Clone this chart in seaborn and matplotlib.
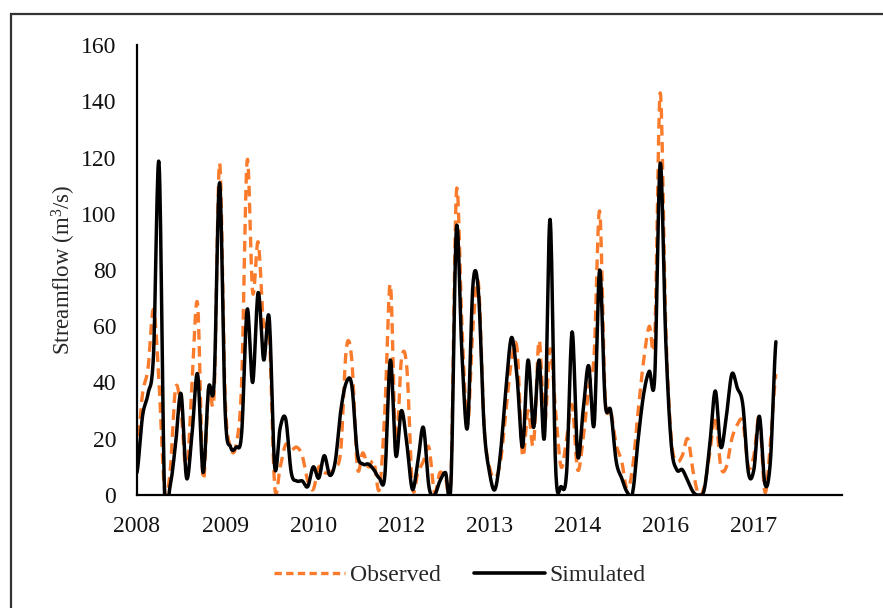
import numpy as np
import pandas as pd
import matplotlib
matplotlib.use("Agg")
import matplotlib.pyplot as plt
import seaborn as sns
from matplotlib.patches import Rectangle
from matplotlib.lines import Line2D

# ---- data -------------------------------------------------------------
year_labels = ["2008", "2009", "2010", "2012", "2013", "2014", "2016", "2017"]
steps_per_label = 16          # records between successive year labels
axis_steps = 128              # length of the category axis

observed = [
    15, 36, 45, 66, 40, 2, 8, 38, 30, 8,
    40, 68, 6, 38, 36, 118, 35, 17, 18, 40,
    119, 72, 90, 60, 58, 3, 10, 18, 16, 17,
    14, 5, 2, 10, 8, 8, 10, 16, 52, 48,
    10, 15, 10, 12, 2, 30, 75, 17, 48, 45,
    3, 8, 12, 17, 1, 8, 6, 6, 108, 60,
    25, 60, 75, 25, 10, 6, 12, 30, 48, 52,
    14, 30, 18, 55, 25, 52, 30, 10, 20, 32,
    9, 20, 38, 50, 101, 35, 30, 18, 12, 2,
    10, 30, 48, 60, 56, 143, 60, 20, 12, 14,
    20, 8, 0, 3, 15, 28, 10, 10, 20, 25,
    26, 10, 14, 28, 1, 18, 43,
]

simulated = [
    8, 28, 36, 50, 118, 1, 3, 18, 36, 6,
    22, 43, 8, 38, 40, 111, 30, 17, 17, 22,
    66, 40, 72, 48, 63, 10, 24, 27, 8, 5,
    5, 3, 10, 6, 14, 7, 12, 30, 40, 39,
    15, 11, 11, 9, 6, 7, 48, 14, 30, 18,
    2, 12, 24, 3, 0, 5, 8, 4, 95, 50,
    24, 75, 72, 25, 8, 2, 15, 38, 56, 42,
    17, 48, 24, 48, 21, 98, 10, 3, 8, 58,
    14, 30, 46, 25, 80, 33, 30, 12, 6, 1,
    1, 20, 36, 44, 42, 118, 55, 18, 9, 9,
    5, 1, 0, 2, 18, 37, 17, 28, 43, 38,
    32, 8, 9, 28, 4, 12, 54.5,
]


def smooth_curve(values, samples=14):
    """Catmull-Rom spline through the records (smoothed-line rendering)."""
    p = np.asarray(values, dtype=float)
    ext = np.concatenate([[p[0]], p, [p[-1]]])
    t = np.linspace(0.0, 1.0, samples, endpoint=False)
    xs, ys = [], []
    for k in range(len(p) - 1):
        p0, p1, p2, p3 = ext[k:k + 4]
        y = 0.5 * (2 * p1 + (-p0 + p2) * t
                   + (2 * p0 - 5 * p1 + 4 * p2 - p3) * t ** 2
                   + (-p0 + 3 * p1 - 3 * p2 + p3) * t ** 3)
        xs.append(k + t)
        ys.append(y)
    xs.append([len(p) - 1])
    ys.append([p[-1]])
    return np.concatenate(xs), np.concatenate(ys)


# ---- style ------------------------------------------------------------
sns.set_style("white")
plt.rcParams["font.family"] = ["Liberation Serif", "DejaVu Serif"]
plt.rcParams["font.size"] = 17
plt.rcParams["mathtext.fontset"] = "custom"
plt.rcParams["mathtext.rm"] = "Liberation Serif"
plt.rcParams["mathtext.it"] = "Liberation Serif:italic"

orange = "#F97B2B"
black = "#000000"

fig = plt.figure(figsize=(8.83, 6.08), dpi=100)
ax = fig.add_axes([137 / 883, 1 - 495 / 608, (842 - 137) / 883, (495 - 45) / 608])

xo, yo = smooth_curve(observed)
xs_, ys_ = smooth_curve(simulated)
curves = pd.concat([
    pd.DataFrame({"step": xo, "flow": yo, "series": "Observed"}),
    pd.DataFrame({"step": xs_, "flow": ys_, "series": "Simulated"}),
])

sns.lineplot(data=curves[curves.series == "Observed"], x="step", y="flow",
             color=orange, lw=2.4, estimator=None, sort=False,
             ax=ax, legend=False, zorder=2)
ax.lines[-1].set_dashes((3.2, 1.9))
sns.lineplot(data=curves[curves.series == "Simulated"], x="step", y="flow",
             color=black, lw=2.5, estimator=None, sort=False,
             ax=ax, legend=False, zorder=3)

# ---- axes -------------------------------------------------------------
ax.set_xlim(0, axis_steps)
ax.set_ylim(0, 160)
ax.set_yticks(np.arange(0, 161, 20))
ax.set_xticks(np.arange(len(year_labels)) * steps_per_label)
ax.set_xticklabels(year_labels)
ax.tick_params(axis="both", length=0, labelsize=17, colors="#111111")
ax.tick_params(axis="x", pad=15)
ax.tick_params(axis="y", pad=15)
ax.set_xlabel("")
ax.set_ylabel("Streamflow (m$^3$/s)", fontsize=16.5, labelpad=2)
for side in ("top", "right"):
    ax.spines[side].set_visible(False)
for side in ("left", "bottom"):
    ax.spines[side].set_color("black")
    ax.spines[side].set_linewidth(1.6)
ax.grid(False)

handles = [
    Line2D([], [], color=orange, lw=2.4, dashes=(2.2, 1.3)),
    Line2D([], [], color=black, lw=2.6),
]
fig.legend(handles, ["Observed", "Simulated"], loc="center",
           bbox_to_anchor=(460 / 883, 1 - 575 / 608), ncol=2, frameon=False,
           fontsize=17, handlelength=3.0, handletextpad=0.2,
           columnspacing=1.4)

# outer frame around the chart
fig.patches.append(Rectangle((11 / 883, -0.2), 1.2, 1 - 14 / 608 + 0.2,
                             transform=fig.transFigure, fill=False,
                             edgecolor="#333333", lw=1.6, zorder=10))

fig.savefig("out.png", dpi=100)
